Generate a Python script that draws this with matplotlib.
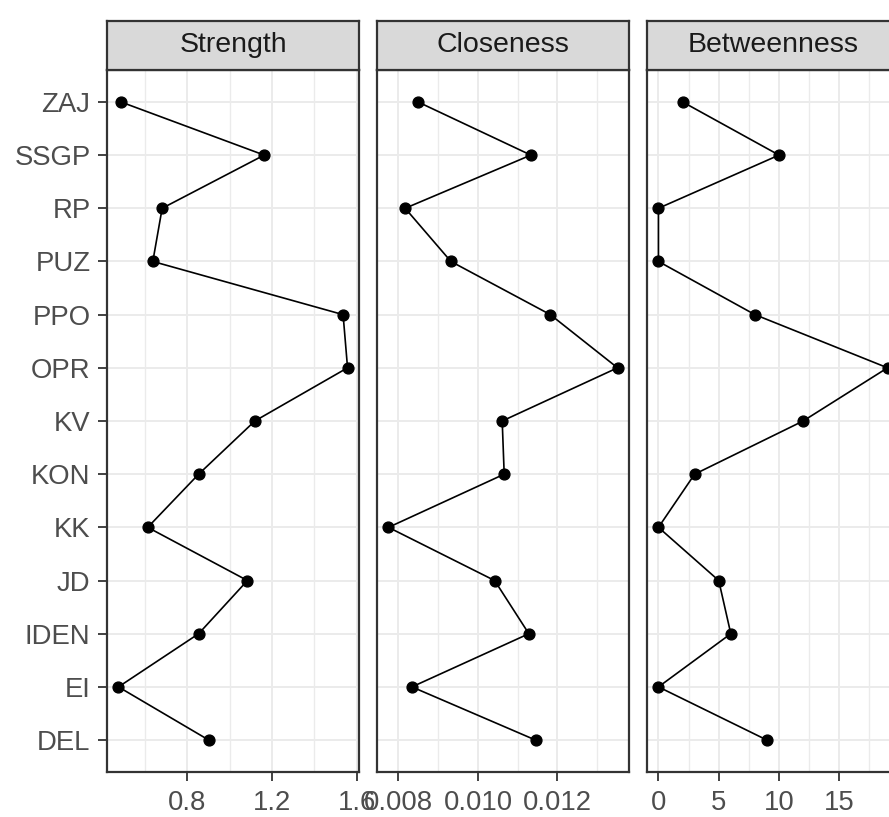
import matplotlib
matplotlib.use("Agg")
import matplotlib.pyplot as plt
from matplotlib.ticker import MultipleLocator, FuncFormatter

plt.rcParams['font.family'] = ['Liberation Sans', 'DejaVu Sans']

# node order from bottom to top
nodes = ["DEL", "EI", "IDEN", "JD", "KK", "KON", "KV", "OPR", "PPO", "PUZ", "RP", "SSGP", "ZAJ"]
strength = [0.902, 0.476, 0.854, 1.084, 0.614, 0.854, 1.119, 1.556, 1.535, 0.638, 0.682, 1.163, 0.487]
closeness = [0.01145, 0.00834, 0.01128, 0.01042, 0.00775, 0.01066, 0.01061, 0.01351, 0.01182,
             0.00932, 0.00817, 0.01133, 0.00849]
betweenness = [9, 0, 6, 5, 0, 3, 12, 19, 8, 0, 0, 10, 2]

measures = ["Strength", "Closeness", "Betweenness"]
series = [strength, closeness, betweenness]

W, H = 889, 817
fig = plt.figure(figsize=(W / 100, H / 100), dpi=100)
fig.patch.set_facecolor("white")

panel_left = [107, 377, 647]
panel_w = 252
panel_top, panel_bot = 70, 772
strip_top = 21

majors = [0.4, 0.002, 5]
minors = [0.2, 0.001, 2.5]
fmts = [lambda v, p: f"{v:.1f}", lambda v, p: f"{v:.3f}", lambda v, p: f"{v:g}"]

ypos = list(range(len(nodes)))

for i, (name, vals) in enumerate(zip(measures, series)):
    x0 = panel_left[i] / W
    ax = fig.add_axes([x0, (H - panel_bot) / H, panel_w / W, (panel_bot - panel_top) / H])
    ax.plot(vals, ypos, color="black", linewidth=1.2, marker="o", markersize=7.8, zorder=3)

    lo, hi = min(vals), max(vals)
    pad = (hi - lo) * 0.05
    ax.set_xlim(lo - pad, hi + pad)
    ax.set_ylim(-0.6, len(nodes) - 0.4)

    ax.xaxis.set_major_locator(MultipleLocator(majors[i]))
    ax.xaxis.set_minor_locator(MultipleLocator(minors[i]))
    ax.xaxis.set_major_formatter(FuncFormatter(fmts[i]))
    ax.set_yticks(ypos)
    ax.set_axisbelow(True)
    ax.grid(which="major", color="#EBEBEB", linewidth=1.4)
    ax.grid(which="minor", axis="x", color="#EBEBEB", linewidth=1.0)

    ax.tick_params(axis="x", which="major", length=6.3, width=1.3, color="#333333",
                   labelsize=19.8, labelcolor="#4D4D4D", pad=6.5)
    ax.tick_params(axis="x", which="minor", length=0)
    if i == 0:
        ax.set_yticklabels(nodes)
        ax.tick_params(axis="y", length=6.3, width=1.3, color="#333333",
                       labelsize=19.8, labelcolor="#4D4D4D", pad=5.5)
    else:
        ax.tick_params(axis="y", length=0, labelleft=False)
    for s in ax.spines.values():
        s.set_color("#333333")
        s.set_linewidth(1.6)

    # facet strip
    sax = fig.add_axes([x0, (H - panel_top) / H, panel_w / W, (panel_top - strip_top) / H])
    sax.set_facecolor("#D9D9D9")
    sax.set_xticks([])
    sax.set_yticks([])
    for s in sax.spines.values():
        s.set_color("#333333")
        s.set_linewidth(1.6)
    sax.text(0.5, 0.5, name, ha="center", va="center", fontsize=20.5, color="#1A1A1A",
             transform=sax.transAxes)

fig.savefig("out.png", dpi=100)
